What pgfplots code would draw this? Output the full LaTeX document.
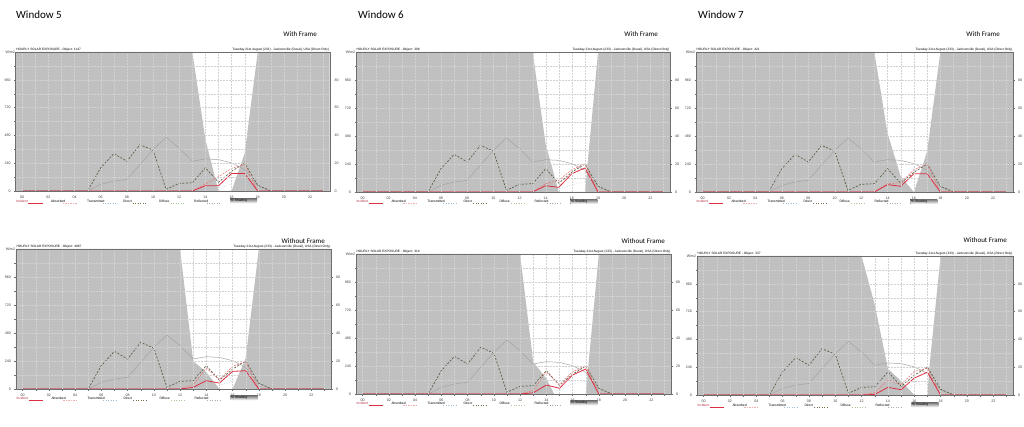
\documentclass[border=0pt]{standalone}
\usepackage{fontspec}
\setmainfont{Carlito}
\newfontfamily\chartfont{Liberation Sans}
\usepackage{pgfplots}
\usepackage{pgfplotstable}
\pgfplotsset{compat=1.18}

\definecolor{shade}{RGB}{192,192,192}
\definecolor{incid}{RGB}{222,45,65}
\definecolor{absor}{RGB}{232,120,120}
\definecolor{trans}{RGB}{150,190,220}
\definecolor{direct}{RGB}{88,98,70}
\definecolor{diffuse}{RGB}{168,162,162}
\definecolor{diffleg}{RGB}{170,200,150}
\definecolor{reflc}{RGB}{170,170,170}
\definecolor{gridc}{RGB}{210,210,210}
\definecolor{frame}{RGB}{110,110,110}

% direct and diffuse, same day for every window
\pgfplotstableread{
h dir dif
0 0 0
1 0 0
2 0 0
3 0 0
4 0 0
5 0 0
6 200 57
7 323 86
8 257 100
9 400 229
10 351 357
11 14 463
12 66 371
13 71 257
14 200 277
15 75 271
16 170 243
17 240 186
18 50 43
19 0 0
20 0 0
21 0 0
22 0 0
23 0 0
}\common

% % shading, one table per window
\pgfplotstableread{
h s
-0.5 100
13 100
14 37
15 0
16 0
17 27
18 100
23.5 100
}\shA
\pgfplotstableread{
h s
-0.5 100
13 100
14 34
15 0
17 0
18 100
23.5 100
}\shB
\pgfplotstableread{
h s
-0.5 100
13 100
14 42
15 11
16 0
17 29
18 100
23.5 100
}\shC
\pgfplotstableread{
h s
-0.5 100
12 100
13 20
14 12
15 0
16 0
17 22
18 100
23.5 100
}\shD
\pgfplotstableread{
h s
-0.5 100
12 100
13 23
14 11
14.6 0
17 0
18 100
23.5 100
}\shE
\pgfplotstableread{
h s
-0.5 100
12 100
13 65
14 19
15 10
16 0
17 0
17.15 20
18 100
23.5 100
}\shF

% incident, absorbed, transmitted
\pgfplotstableread{
h inc abs tr
0 0 0 0
12 0 0 0
13 0 0 0
14 45 60 15
15 45 123 25
16 151 194 60
17 151 230 80
18 0 0 0
23 0 0 0
}\afA
\pgfplotstableread{
h inc abs tr
0 0 0 0
12 0 0 0
13 0 0 0
14 54 70 15
15 40 100 25
16 157 191 60
17 206 243 90
18 0 0 0
23 0 0 0
}\afB
\pgfplotstableread{
h inc abs tr
0 0 0 0
12 0 0 0
13 0 0 0
14 63 70 15
15 49 80 25
16 157 191 60
17 157 240 80
18 0 0 0
23 0 0 0
}\afC
\pgfplotstableread{
h inc abs tr
0 0 0 0
12 0 0 0
13 14 37 5
14 71 180 40
15 51 80 30
16 151 194 70
17 157 237 80
18 0 0 0
23 0 0 0
}\afD
\pgfplotstableread{
h inc abs tr
0 0 0 0
12 0 0 0
13 10 30 5
14 77 191 40
15 49 77 30
16 163 191 90
17 214 243 110
18 0 0 0
23 0 0 0
}\afE
\pgfplotstableread{
h inc abs tr
0 0 0 0
12 0 0 0
13 5 20 5
14 66 131 40
15 46 89 30
16 146 203 80
17 197 231 100
18 0 0 0
23 0 0 0
}\afF

\pgfplotsset{
  base/.style={
    anchor=north west, scale only axis,
    xmin=-0.5, xmax=23.5, ymin=0, ymax=1200,
    xtick={0,2,...,22},
    xticklabels={00,02,04,06,08,10,12,14,16,18,20,22},
    minor xtick={1,3,...,23},
    ytick={0,240,480,720,960}, yticklabels={0,240,480,720,960},
    minor ytick={120,360,600,840,1080},
    xmajorgrids, xminorgrids, ymajorgrids, yminorgrids,
    grid style={gridc, line width=0.25pt, dash pattern=on 0.6pt off 0.9pt},
    minor grid style={gridc, line width=0.25pt, dash pattern=on 0.6pt off 0.9pt},
    axis on top,
    axis line style={frame, line width=0.4pt},
    tick style={frame, line width=0.3pt},
    tick align=outside, major tick length=1.5pt, minor tick length=1.5pt,
    tick pos=left,
    tick label style={font=\chartfont\fontsize{3.6}{4}\selectfont, text=black!75},
  },
  base2/.style={
    anchor=north west, scale only axis,
    xmin=-0.5, xmax=23.5, ymin=0, ymax=100,
    axis x line=none, axis y line*=right,
    ytick={0,20,40,60,80}, yticklabels={0,20,40,60,80},
    axis line style={frame, line width=0.4pt},
    tick style={frame, line width=0.3pt},
    tick align=outside, major tick length=1.5pt,
    tick label style={font=\chartfont\fontsize{3.6}{4}\selectfont, text=black!75},
  },
}

\newcommand\legendrow[2]{%
  \begin{scope}[shift={(#1pt,-#2pt)}, font=\chartfont\fontsize{3.3}{3.5}\selectfont]
    \node[anchor=west, inner sep=0pt, text=incid!80!black] at (0.3pt,0) {Incident};
    \draw[incid, line width=0.6pt] (12.5pt,-2pt) -- (27pt,-2pt);
    \node[anchor=west, inner sep=0pt] at (35.3pt,0) {Absorbed};
    \draw[absor!60, line width=0.5pt, dash pattern=on 1.5pt off 1pt] (47pt,-2pt) -- (61pt,-2pt);
    \node[anchor=west, inner sep=0pt] at (71.3pt,0) {Transmitted};
    \draw[trans, line width=0.5pt, dotted] (87pt,-2pt) -- (101pt,-2pt);
    \node[anchor=west, inner sep=0pt] at (107.3pt,0) {Direct};
    \draw[direct!70!brown, line width=0.5pt, dotted] (117pt,-2pt) -- (131pt,-2pt);
    \node[anchor=west, inner sep=0pt] at (143.3pt,0) {Diffuse};
    \draw[diffleg, line width=0.5pt, dotted] (155pt,-2pt) -- (169pt,-2pt);
    \node[anchor=west, inner sep=0pt] at (178.3pt,0) {Reflected};
    \draw[reflc, line width=0.5pt, dotted] (191pt,-2pt) -- (205pt,-2pt);
    \fill[shade] (214.3pt,-2.2pt) rectangle (241.3pt,2.2pt);
    \node[anchor=west, inner sep=0pt] at (215pt,0) {\% Shading};
  \end{scope}}

% x, y (top, downwards), width, height, shading, afternoon table, object, legend y
\newcommand\panel[8]{%
  \begin{axis}[base, at={(#1pt,-#2pt)}, width=#3pt, height=#4pt,
    extra description/.code={
      \node[anchor=south west, inner sep=0.4pt, font=\chartfont\fontsize{3.2}{3.4}\selectfont]
        at (rel axis cs:0,1) {HOURLY SOLAR EXPOSURE - #7};
      \node[anchor=south east, inner sep=0.4pt, font=\chartfont\fontsize{3.2}{3.4}\selectfont]
        at (rel axis cs:1,1) {Tuesday 21st August (233) - Jacksonville (Duval), USA (Direct Only)};
      \node[anchor=east, inner sep=0.6pt, font=\chartfont\fontsize{3.6}{4}\selectfont, text=black!75]
        at (rel axis cs:0,1) {W/m2};
    }]
    \addplot[fill=shade, draw=none] table[x=h, y expr=\thisrow{s}*12] {#5} \closedcycle;
    \addplot[diffuse, line width=0.5pt] table[x=h, y=dif] {\common};
    \addplot[direct, line width=0.7pt, dash pattern=on 2pt off 1.5pt] table[x=h, y=dir] {\common};
    \addplot[trans, line width=0.5pt, dotted] table[x=h, y=tr] {#6};
    \addplot[absor, line width=0.6pt, dash pattern=on 2pt off 1.2pt] table[x=h, y=abs] {#6};
    \addplot[incid, line width=0.8pt] table[x=h, y=inc] {#6};
  \end{axis}
  \begin{axis}[base2, at={(#1pt,-#2pt)}, width=#3pt, height=#4pt]
  \end{axis}
  \legendrow{#1}{#8}%
}

\begin{document}
\begin{tikzpicture}
\path[use as bounding box] (0,0) rectangle (1024pt,-427pt);

\panel{15.7}{52}{314}{139}{\shA}{\afA}{Object: 1147}{201}
\panel{356}{52}{314}{140}{\shB}{\afB}{Object: 308}{201.7}
\panel{696}{52}{317}{140}{\shC}{\afC}{Object: 421}{201.7}
\panel{16}{249}{315}{140}{\shD}{\afD}{Object: 4087}{398}
\panel{356}{254}{315}{140}{\shE}{\afE}{Object: 314}{403}
\panel{697}{256}{316}{139}{\shF}{\afF}{Object: 337}{405}

\node[anchor=base west, inner sep=0pt, font=\fontsize{11}{11}\selectfont] at (16pt,-18.5pt) {Window 5};
\node[anchor=base west, inner sep=0pt, font=\fontsize{11}{11}\selectfont] at (358pt,-18.5pt) {Window 6};
\node[anchor=base west, inner sep=0pt, font=\fontsize{11}{11}\selectfont] at (698pt,-18.5pt) {Window 7};
\node[anchor=base east, inner sep=0pt, font=\fontsize{7}{7}\selectfont] at (317pt,-37pt) {With Frame};
\node[anchor=base east, inner sep=0pt, font=\fontsize{7}{7}\selectfont] at (658pt,-37pt) {With Frame};
\node[anchor=base east, inner sep=0pt, font=\fontsize{7}{7}\selectfont] at (1000pt,-36.5pt) {With Frame};
\node[anchor=base east, inner sep=0pt, font=\fontsize{7}{7}\selectfont] at (325pt,-243.5pt) {Without Frame};
\node[anchor=base east, inner sep=0pt, font=\fontsize{7}{7}\selectfont] at (665pt,-244pt) {Without Frame};
\node[anchor=base east, inner sep=0pt, font=\fontsize{7}{7}\selectfont] at (1007pt,-242.5pt) {Without Frame};
\end{tikzpicture}
\end{document}
